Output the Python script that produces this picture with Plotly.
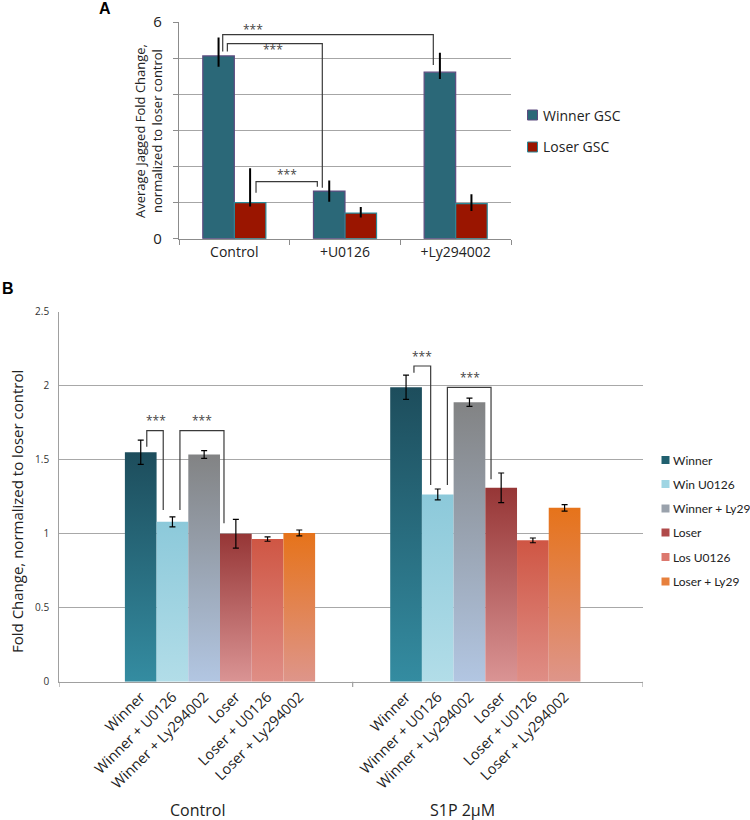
import plotly.graph_objects as go

W, H = 750, 820

# ---------------- Panel A data ----------------
categories_A = ["Control", "+U0126", "+Ly294002"]
winner_A = [5.06, 1.32, 4.61]
winner_A_err_plus = [0.51, 0.29, 0.54]
winner_A_err_minus = [0.30, 0.30, 0.19]
loser_A = [1.00, 0.71, 0.97]
loser_A_err_plus = [0.95, 0.17, 0.26]
loser_A_err_minus = [0.11, 0.12, 0.20]
legend_A = ["Winner GSC", "Loser GSC"]

# ---------------- Panel B data ----------------
groups_B = ["Control", "S1P 2µM"]
tick_labels_B = ["Winner", "Winner + U0126", "Winner + Ly294002",
                 "Loser", "Loser + U0126", "Loser + Ly294002"]
legend_B = ["Winner", "Win U0126", "Winner + Ly29", "Loser", "Los U0126", "Loser + Ly29"]
winner_B = [1.55, 1.99]
winner_u0126_B = [1.08, 1.265]
winner_ly29_B = [1.535, 1.888]
loser_B = [1.00, 1.31]
loser_u0126_B = [0.964, 0.955]
loser_ly29_B = [1.005, 1.175]
winner_B_err = [0.082, 0.082]
winner_u0126_B_err = [0.034, 0.037]
winner_ly29_B_err = [0.026, 0.028]
loser_B_err = [0.097, 0.10]
loser_u0126_B_err = [0.015, 0.016]
loser_ly29_B_err = [0.02, 0.022]

series_B = [winner_B, winner_u0126_B, winner_ly29_B, loser_B, loser_u0126_B, loser_ly29_B]
errors_B = [winner_B_err, winner_u0126_B_err, winner_ly29_B_err, loser_B_err,
            loser_u0126_B_err, loser_ly29_B_err]

# styles (top colour, bottom colour, legend swatch colour)
grad_B = [("#1d4d5c", "#348ca1", "#21606f"),
          ("#8cc9da", "#b2dde8", "#9fd5e3"),
          ("#828384", "#b2c6e2", "#9aa2ac"),
          ("#963636", "#da9494", "#b04a4a"),
          ("#cf5644", "#df8e86", "#dc786e"),
          ("#e6731a", "#de958a", "#e7803c")]

FONT = "Open Sans"


def px(x):
    return x / W


def py(y):
    return 1 - y / H


fig = go.Figure()

# ---------------- Panel A bars ----------------
fig.add_trace(go.Bar(
    x=categories_A, y=winner_A, name=legend_A[0], xaxis="x", yaxis="y",
    marker=dict(color="#2b6878", line=dict(color="#5e4c80", width=1.2)),
    error_y=dict(type="data", symmetric=False, array=winner_A_err_plus,
                 arrayminus=winner_A_err_minus, color="black", thickness=2, width=0),
    showlegend=False))
fig.add_trace(go.Bar(
    x=categories_A, y=loser_A, name=legend_A[1], xaxis="x", yaxis="y",
    marker=dict(color="#9a1500", line=dict(color="#2b8a99", width=1.2)),
    error_y=dict(type="data", symmetric=False, array=loser_A_err_plus,
                 arrayminus=loser_A_err_minus, color="black", thickness=2, width=0),
    showlegend=False))

# ---------------- Panel B bars (gradient-filled) ----------------
wB = 0.1195
nB = len(series_B)
centers_all = []
labels_all = []
for g in range(len(groups_B)):
    for i in range(nB):
        centers_all.append(g + (i - (nB - 1) / 2) * wB)
        labels_all.append(tick_labels_B[i])

for i, (vals, errs) in enumerate(zip(series_B, errors_B)):
    ctop, cbot, _ = grad_B[i]
    xcs = []
    for g, v in enumerate(vals):
        xc = g + (i - (nB - 1) / 2) * wB
        xcs.append(xc)
        x0, x1 = xc - wB / 2, xc + wB / 2
        fig.add_trace(go.Scatter(
            x=[x0, x0, x1, x1, x0], y=[0, v, v, 0, 0], xaxis="x2", yaxis="y2",
            mode="lines", fill="toself", line=dict(width=0, color=ctop),
            fillgradient=dict(type="vertical", colorscale=[[0, cbot], [1, ctop]]),
            name=legend_B[i], showlegend=False, hoverinfo="skip"))
    fig.add_trace(go.Scatter(
        x=xcs, y=vals, xaxis="x2", yaxis="y2", mode="markers",
        marker=dict(size=2, color="rgba(0,0,0,0)"),
        error_y=dict(type="data", array=errs, color="black", thickness=1.2, width=3),
        showlegend=False, hoverinfo="skip"))

shapes = []
annotations = []

# ---------------- Significance brackets ----------------
line_br = dict(color="#3a3a3a", width=1.2)
brackets_A = [  # (x_left, y_left_start, y_top, x_right, y_right_end)
    (-0.105, 5.18, 5.65, 1.798, 4.81),
    (-0.063, 5.18, 5.40, 0.795, 1.41),
    (0.196, 1.27, 1.58, 0.750, 1.44),
]
stars_A = [(0.169, 5.80), (0.350, 5.24), (0.473, 1.79)]
for xl, yl, yt, xr, yr in brackets_A:
    shapes.append(dict(type="path", xref="x", yref="y", line=line_br,
                       path=f"M{xl},{yl} L{xl},{yt} L{xr},{yt} L{xr},{yr}"))
for xs, ys in stars_A:
    annotations.append(dict(x=xs, y=ys, xref="x", yref="y", text="***", showarrow=False,
                            xanchor="center", yanchor="middle",
                            font=dict(family=FONT, size=12, color="#444")))

brackets_B = [
    (-0.276, 1.588, 1.696, -0.214, 1.160),
    (-0.151, 1.160, 1.696, 0.015, 1.070),
    (0.731, 2.088, 2.133, 0.794, 1.329),
    (0.857, 1.329, 1.989, 1.0215, 1.368),
]
stars_B = [(-0.242, 1.765), (-0.069, 1.765), (0.760, 2.20), (0.942, 2.058)]
for xl, yl, yt, xr, yr in brackets_B:
    shapes.append(dict(type="path", xref="x2", yref="y2", line=line_br,
                       path=f"M{xl},{yl} L{xl},{yt} L{xr},{yt} L{xr},{yr}"))
for xs, ys in stars_B:
    annotations.append(dict(x=xs, y=ys, xref="x2", yref="y2", text="***", showarrow=False,
                            xanchor="center", yanchor="middle",
                            font=dict(family=FONT, size=12, color="#444")))

# ---------------- Category divider ticks for panel B ----------------
xrB = [-0.6057, 1.5943]
for xv in [xrB[0], 0.5, xrB[1]]:
    shapes.append(dict(type="line", xref="x2", yref="paper", x0=xv, x1=xv,
                       y0=py(681.7), y1=py(687), line=dict(color="#a0a0a0", width=1.2)))

# ---------------- Manual legends ----------------
leg_A_y = [115, 147]
leg_A_col = [("#2b6878", "#5e4c80"), ("#9a1500", "#2b8a99")]
for name, yy, (fc, lc) in zip(legend_A, leg_A_y, leg_A_col):
    shapes.append(dict(type="rect", xref="paper", yref="paper", x0=px(527.5), x1=px(537.5),
                       y0=py(yy - 5), y1=py(yy + 5), fillcolor=fc, line=dict(color=lc, width=1)))
    annotations.append(dict(x=px(541), y=py(yy), xref="paper", yref="paper", text=name,
                            xanchor="left", yanchor="middle", showarrow=False,
                            font=dict(family=FONT, size=14, color="#222")))

leg_B_y = [460, 484, 508.5, 532.5, 557, 581.5]
for i, (name, yy) in enumerate(zip(legend_B, leg_B_y)):
    shapes.append(dict(type="rect", xref="paper", yref="paper", x0=px(661.5), x1=px(669.5),
                       y0=py(yy - 4), y1=py(yy + 4), fillcolor=grad_B[i][2], line=dict(width=0)))
    annotations.append(dict(x=px(671), y=py(yy), xref="paper", yref="paper", text=name,
                            xanchor="left", yanchor="middle", showarrow=False,
                            font=dict(family="Lato", size=12, color="#222")))

# ---------------- Titles / labels ----------------
annotations += [
    dict(x=px(97), y=py(8), xref="paper", yref="paper", text="<b>A</b>", showarrow=False,
         xanchor="left", yanchor="middle", font=dict(family="Liberation Sans", size=16, color="black")),
    dict(x=px(0), y=py(288), xref="paper", yref="paper", text="<b>B</b>", showarrow=False,
         xanchor="left", yanchor="middle", font=dict(family="Liberation Sans", size=16, color="black")),
    dict(x=px(148), y=py(131), xref="paper", yref="paper", textangle=-90, showarrow=False,
         xanchor="center", yanchor="middle",
         text="Average Jagged Fold Change,<br>normalized to loser control",
         font=dict(family=FONT, size=13, color="#222")),
    dict(x=px(17), y=py(512), xref="paper", yref="paper", textangle=-90, showarrow=False,
         xanchor="center", yanchor="middle",
         text="Fold Change, normalized to loser control",
         font=dict(family=FONT, size=15, color="#222")),
]
for g, gname in enumerate(groups_B):
    annotations.append(dict(x=g - 0.085, y=py(810), xref="x2", yref="paper", text=gname,
                            showarrow=False, xanchor="center", yanchor="middle",
                            font=dict(family=FONT, size=16, color="#222")))

fig.update_layout(
    width=W, height=H, margin=dict(l=0, r=0, t=0, b=0, autoexpand=False),
    paper_bgcolor="white", plot_bgcolor="white",
    barmode="group", bargap=0.43, bargroupgap=0,
    showlegend=False,
    font=dict(family=FONT, color="#222"),
    xaxis=dict(domain=[px(179), px(511)], anchor="y", type="category", automargin=False,
               showline=True, linecolor="#8c8c8c", linewidth=1.3,
               ticks="outside", tickson="boundaries", ticklen=5, tickcolor="#8c8c8c",
               tickfont=dict(family=FONT, size=14, color="#222"), showgrid=False),
    yaxis=dict(domain=[py(238.7), py(22)], anchor="x", range=[0, 6], automargin=False,
               tickmode="array", tickvals=[0, 6], ticks="outside", ticklen=5,
               tickcolor="#8c8c8c", ticklabelstandoff=8,
               tickfont=dict(family=FONT, size=15, color="#222"),
               showline=True, linecolor="#8c8c8c", linewidth=1.3,
               showgrid=True, gridcolor="#a6a6a6", gridwidth=1.3, zeroline=False,
               minor=dict(tickmode="linear", tick0=0, dtick=1, showgrid=True,
                          gridcolor="#a6a6a6", gridwidth=1.3, ticks="outside",
                          ticklen=5, tickcolor="#8c8c8c")),
    xaxis2=dict(domain=[px(59.3), px(643)], anchor="y2", range=xrB, automargin=False,
                tickmode="array", tickvals=centers_all, ticktext=labels_all,
                tickangle=-45, ticks="", showgrid=False, zeroline=False,
                showline=True, linecolor="#a0a0a0", linewidth=1.3,
                tickfont=dict(family=FONT, size=14.5, color="#222")),
    yaxis2=dict(domain=[py(681.7), py(311.7)], anchor="x2", range=[0, 2.5], dtick=0.5,
                automargin=False,
                ticks="", ticklabelstandoff=7, showline=True, linecolor="#a0a0a0",
                linewidth=1.3, showgrid=True, gridcolor="#a8a8a8", gridwidth=1.3,
                zeroline=False, tickfont=dict(family=FONT, size=10, color="#333")),
    shapes=shapes, annotations=annotations,
)

fig.write_html("out.html", config={"displayModeBar": False},
               post_script="document.body.style.margin='0';document.body.style.overflow='hidden';")
